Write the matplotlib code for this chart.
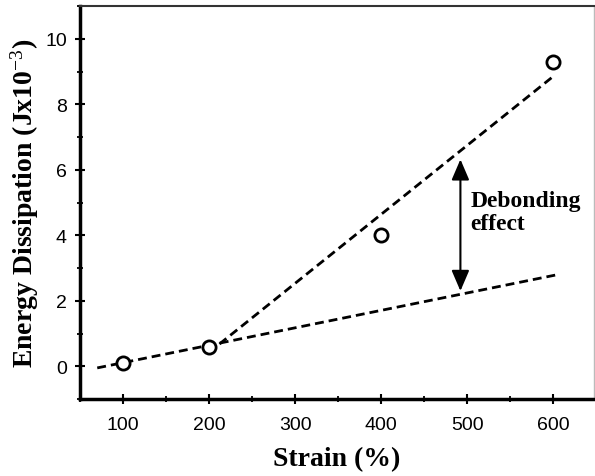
import matplotlib
matplotlib.use('Agg')
import matplotlib.pyplot as plt
from matplotlib.ticker import MultipleLocator

plt.rcParams['mathtext.fontset'] = 'custom'
plt.rcParams['mathtext.rm'] = 'Liberation Serif'
plt.rcParams['mathtext.it'] = 'Liberation Serif:italic'
plt.rcParams['mathtext.bf'] = 'Liberation Serif:bold'

# measured points
strain = [100, 200, 400, 600]
energy = [0.1, 0.6, 4.0, 9.3]

# dashed trend lines (end points)
low_x = [70, 605]
low_y = [-0.05, 2.8]
high_x = [212, 602]
high_y = [0.68, 8.9]

# arrow showing debonding effect
arrow_x = 492
arrow_top = 6.32
arrow_bottom = 2.3

fig = plt.figure(figsize=(5.95, 4.77), dpi=100)
ax = fig.add_axes([0.1345, 0.1614, 0.8635, 0.8236])

ax.plot(low_x, low_y, color='black', lw=2.0, dashes=(3.2, 1.8))
ax.plot(high_x, high_y, color='black', lw=2.0, dashes=(3.2, 1.8))
ax.plot(strain, energy, 'o', ms=9.5, mfc='white', mec='black', mew=2.0, zorder=5)

ax.annotate('', xy=(arrow_x, arrow_top), xytext=(arrow_x, arrow_bottom),
            arrowprops=dict(arrowstyle='<|-|>,head_length=0.7,head_width=0.3', color='black', lw=1.5,
                            mutation_scale=18, shrinkA=0, shrinkB=0))
ax.text(504, 5.38, 'Debonding\neffect', fontsize=17, fontweight='bold',
        family='Liberation Serif', va='top', ha='left', linespacing=1.1)

ax.set_xlim(50, 647)
ax.set_ylim(-1, 11)
ax.xaxis.set_minor_locator(MultipleLocator(50))
ax.yaxis.set_minor_locator(MultipleLocator(1))
ax.set_xticks([100, 200, 300, 400, 500, 600])
ax.set_yticks([0, 2, 4, 6, 8, 10])

for lab in ax.get_xticklabels() + ax.get_yticklabels():
    lab.set_family('Liberation Sans')
    lab.set_fontsize(14)
ax.tick_params(which='major', length=7, width=1.5, direction='inout')
ax.tick_params(axis='x', which='major', pad=9)
ax.tick_params(axis='y', which='major', pad=6)
ax.tick_params(which='minor', length=4, width=1.3, direction='inout')

ax.spines['left'].set_linewidth(2.5)
ax.spines['bottom'].set_linewidth(2.5)
ax.spines['top'].set_linewidth(1.5)
ax.spines['top'].set_color('#333333')
ax.spines['right'].set_linewidth(1.0)
ax.spines['right'].set_color('#bbbbbb')

ax.set_xlabel('Strain (%)', fontsize=20, fontweight='bold', family='Liberation Serif', labelpad=9)
ax.set_ylabel('Energy Dissipation (Jx10$^{\\mathrm{-3}}$)', fontsize=20, fontweight='bold',
              family='Liberation Serif', labelpad=3)

fig.savefig('out.png', dpi=100)
